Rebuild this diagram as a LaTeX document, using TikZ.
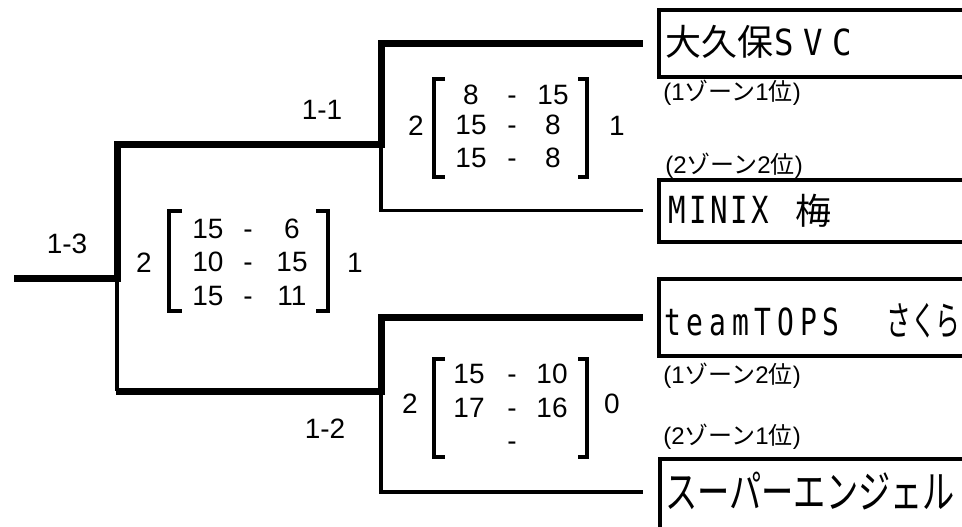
\documentclass[tikz,border=0pt]{standalone}
\usepackage{fontspec}
\setmainfont{Liberation Sans}
\newfontfamily\jp{Noto Sans CJK JP}
\newfontfamily\mono{DejaVu Sans Mono}
\newlength\lw
\newcommand\lx{1}
\newcommand\Ltr[1]{\makebox[\lw]{\scalebox{\lx}[1]{#1}}}
\begin{document}
\begin{tikzpicture}[x=0.75pt,y=-0.75pt,
  win/.style={line width=5.25pt, line join=miter},
  lose/.style={line width=2.3pt},
  brk/.style={line width=3pt, line join=miter},
  teambox/.style={draw, line width=3pt, inner sep=0, outer sep=0, anchor=north west, minimum width=300pt},
  sc/.style={font=\fontsize{21pt}{21pt}\selectfont, inner sep=0, anchor=base},
  sub/.style={font=\fontsize{18pt}{18pt}\selectfont, inner sep=0, anchor=base west},
  nm/.style={inner sep=0, anchor=base west}]
\useasboundingbox (0,0) rectangle (962,526);
\clip (0,0) rectangle (962,526);

% team boxes
\node[teambox, minimum height=50pt] (t1) at (658.7,10.3) {};
\node[teambox, minimum height=46.7pt] (t2) at (658.5,179.7) {};
\node[teambox, minimum height=58pt] (t3) at (658.7,278.7) {};
\node[teambox, minimum height=150pt] (t4) at (660,459) {};

% tree
\coordinate (root) at (14,278);
\coordinate (m13) at (117,278);
\coordinate (m11) at (381,144);
\coordinate (m12) at (381,391);
\coordinate (m13b) at (115.5,391);
\coordinate (e4) at (643,492);

\draw[win] (root) -- (m13) |- (m11) |- ([xshift=-11.5pt]t1.west);
\draw[lose] (m11) |- ([xshift=-11.5pt]t2.west);
\draw[lose] (m13) -- (m13 |- m12);
\draw[win] (m13b) -- (m12) |- ([xshift=-11.5pt]t3.west);
\draw[lose] (m12) |- (e4);

% round labels
\node[sc] (r11) at (322,119) {1-1};
\node[sc] (r13) at (67,253) {1-3};
\node[sc] (r12) at (325,438) {1-2};

% match 1-1
\draw[brk] (445,78.5) -| (434,176.5) -- (445,176.5);
\draw[brk] (578,78.5) -| (586.7,176.5) -- (578,176.5);
\node[sc] (g11a) at (416,135) {2};
\node[sc] (g11b) at (617,135) {1};
\node[sc] (s11l1) at (471,104) {8};
\node[sc] (s11d1) at (512,104) {-};
\node[sc] (s11r1) at (553,104) {15};
\node[sc] (s11l2) at (471,134) {15};
\node[sc] (s11d2) at (512,134) {-};
\node[sc] (s11r2) at (553,134) {8};
\node[sc] (s11l3) at (471,167) {15};
\node[sc] (s11d3) at (512,167) {-};
\node[sc] (s11r3) at (553,167) {8};

% match 1-3
\draw[brk] (182,211) -| (169,311) -- (182,311);
\draw[brk] (316,211) -| (327.5,311) -- (316,311);
\node[sc] (g13a) at (144,272) {2};
\node[sc] (g13b) at (355,272) {1};
\node[sc] (s13l1) at (208,238) {15};
\node[sc] (s13d1) at (248,238) {-};
\node[sc] (s13r1) at (292,238) {6};
\node[sc] (s13l2) at (208,271) {10};
\node[sc] (s13d2) at (248,271) {-};
\node[sc] (s13r2) at (292,271) {15};
\node[sc] (s13l3) at (208,305) {15};
\node[sc] (s13d3) at (248,305) {-};
\node[sc] (s13r3) at (292,305) {11};

% match 1-2
\draw[brk] (445,359) -| (434,457) -- (445,457);
\draw[brk] (578,359) -| (586.7,457) -- (578,457);
\node[sc] (g12a) at (410,413) {2};
\node[sc] (g12b) at (612,413) {0};
\node[sc] (s12l1) at (469,383) {15};
\node[sc] (s12d1) at (512,383) {-};
\node[sc] (s12r1) at (552,383) {10};
\node[sc] (s12l2) at (469,417) {17};
\node[sc] (s12d2) at (512,417) {-};
\node[sc] (s12r2) at (552,417) {16};
\node[sc] (s12d3) at (512,450) {-};

% zone labels
\node[sub] (z1) at (663,100) {(1{\jp ゾーン}1{\jp 位})};
\node[sub] (z2) at (665,173) {(2{\jp ゾーン}2{\jp 位})};
\node[sub] (z3) at (663,383) {(1{\jp ゾーン}2{\jp 位})};
\node[sub] (z4) at (663,444) {(2{\jp ゾーン}1{\jp 位})};

% team names
\node[nm] (n1a) at (665,55) {\fontsize{27pt}{27pt}\jp 大久保};
\node[nm] (n1b) at (769,55) {\fontsize{27pt}{27pt}\mono\setlength\lw{22pt}\renewcommand\lx{0.9}\Ltr{S}\Ltr{V}\Ltr{C}};
\node[nm] (n2a) at (666.5,223) {\fontsize{28pt}{28pt}\mono\setlength\lw{15.6pt}\renewcommand\lx{0.78}\Ltr{M}\Ltr{I}\Ltr{N}\Ltr{I}\Ltr{X}};
\node[nm] (n2b) at (795,224.5) {\fontsize{27pt}{27pt}\jp 梅};
\node[nm] (n3a) at (661,335) {\fontsize{28pt}{28pt}\mono\setlength\lw{17pt}\renewcommand\lx{0.75}\Ltr{t}\Ltr{e}\Ltr{a}\Ltr{m}\Ltr{T}\Ltr{O}\Ltr{P}\Ltr{S}};
\node[nm] (n3b) at (886,335) {\scalebox{0.62}[1]{\fontsize{30pt}{30pt}\jp さくら}};
\node[nm] (n4) at (665,508) {\scalebox{0.93}[1.3]{\fontsize{26pt}{26pt}\jp スーパーエンジェル}};
\end{tikzpicture}
\end{document}
